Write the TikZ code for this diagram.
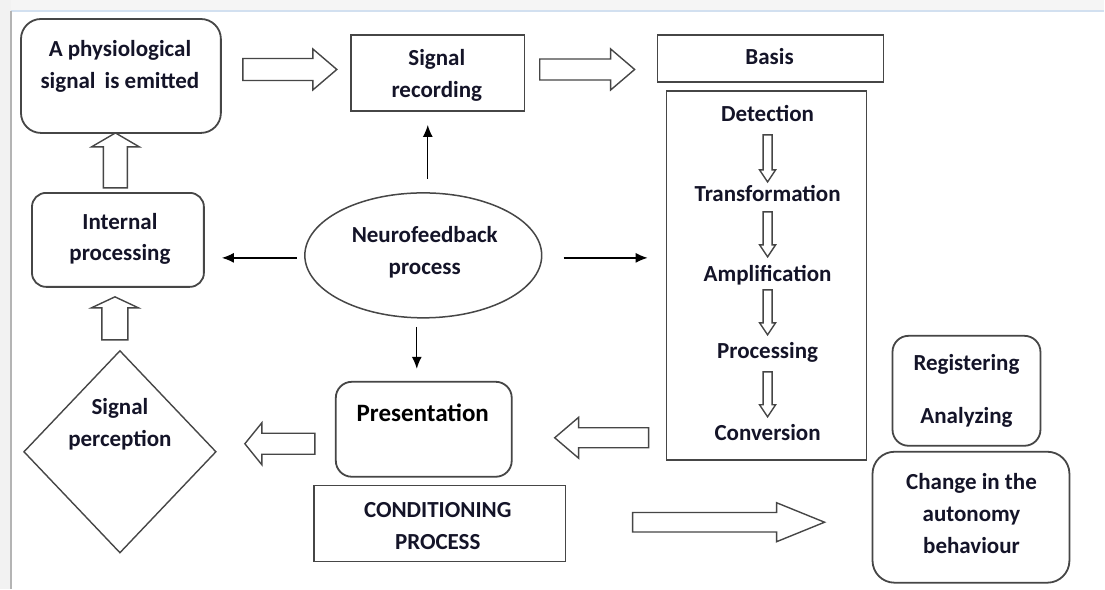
\documentclass[tikz,border=0pt]{standalone}
\usepackage{fontspec}
\setmainfont{Carlito}
\usetikzlibrary{shapes.geometric,arrows.meta,calc}
\definecolor{ink}{HTML}{141428}
\definecolor{edge}{HTML}{464646}
\definecolor{paneline}{HTML}{B4B4B4}
\definecolor{panetop}{HTML}{D2E0F0}
\begin{document}
\begin{tikzpicture}[x=1pt,y=-1pt,
  every node/.style={inner sep=0pt, outer sep=0pt},
  lbl/.style={font=\fontsize{23}{32}\selectfont\bfseries, text=ink, align=center},
  box/.style={draw=edge, line width=1.5pt, rectangle},
  rbox/.style={box, line width=1.8pt, rounded corners=16pt},
  blk/.style={draw=edge, line width=1.4pt, fill=white, line join=miter},
  arr/.style={draw=black, line width=1.3pt, -{Latex[length=12pt,width=10pt]}},
  % hollow block arrow: length / shaft half-width / head half-width / head length
  pics/blockarrow/.style args={#1/#2/#3/#4}{code={
    \draw[blk] (0,-#2) -- (#1-#4,-#2) -- (#1-#4,-#3) -- (#1,0)
      -- (#1-#4,#3) -- (#1-#4,#2) -- (0,#2) -- cycle;}},
]
% canvas and window edges
\fill[white] (0,0) rectangle (1105,589);
\fill[black!4] (0,0) rectangle (1105,11);
\fill[black!5] (0,0) rectangle (11,589);
\draw[panetop, line width=1.2pt] (11,11) -- (1105,11);
\draw[paneline, line width=2pt] (11,11) -- (11,589);
\useasboundingbox (0,0) rectangle (1105,589);

% boxes
\node[rbox, minimum width=200pt, minimum height=114pt, rounded corners=20pt] (phys) at (121,76) {};
\node[lbl] (physT) at (120,66) {A physiological\\signal\, is emitted};

\node[box, minimum width=174pt, minimum height=76pt] (rec) at (438,73) {};
\node[lbl] (recT) at (437,75) {Signal\\recording};

\node[box, minimum width=226pt, minimum height=47pt] (basis) at (771,58.5) {};
\node[lbl] (basisT) at (770,57) {Basis};

\node[box, minimum width=200pt, minimum height=369pt] (chain) at (767,275.5) {};
\node[lbl] (det) at (768,114) {Detection};
\node[lbl] (tra) at (768,194) {Transformation};
\node[lbl] (amp) at (768,275) {Amplification};
\node[lbl] (pro) at (768,353) {Processing};
\node[lbl] (con) at (768,433) {Conversion};

\node[rbox, minimum width=148pt, minimum height=110pt] (reg) at (967,391) {};
\node[lbl] (regT) at (967,365) {Registering};
\node[lbl] (anaT) at (967,418) {Analyzing};

\node[rbox, minimum width=197pt, minimum height=131pt, rounded corners=22pt] (change) at (971.5,517.5) {};
\node[lbl] (changeT) at (972,514) {Change in the\\autonomy\\behaviour};

\node[rbox, minimum width=172pt, minimum height=94pt, rounded corners=14pt] (internal) at (118,240) {};
\node[lbl] (internalT) at (120,239) {Internal\\processing};

\node[diamond, draw=edge, line width=1.4pt, minimum width=192pt, minimum height=202pt] (percep) at (120,452) {};
\node[lbl] (percepT) at (120,424) {Signal\\perception};

\node[ellipse, draw=edge, line width=1.5pt, minimum width=237pt, minimum height=125pt] (neuro) at (423.5,255.5) {};
\node[lbl] (neuroT) at (425,252) {Neurofeedback\\process};

\node[rbox, minimum width=176pt, minimum height=95pt] (pres) at (424,429.5) {};
\node[lbl, font=\fontsize{25}{32}\selectfont\bfseries, text=black] (presT) at (423,413) {Presentation};

\node[box, minimum width=252pt, minimum height=76pt] (cond) at (440,524) {};
\node[lbl] (condT) at (438,526) {CONDITIONING\\PROCESS};

% thin arrows out of the neurofeedback process
\draw[arr] ([xshift=4.5pt, yshift=14pt]neuro.north) -- ([xshift=-10pt, yshift=-14pt]rec.south);
\draw[arr] ([xshift=-8pt, yshift=-2.5pt]neuro.west) -- ([xshift=18pt, yshift=-18pt]internal.east);
\draw[arr] ([xshift=22pt, yshift=-2.5pt]neuro.east) -- ([xshift=-19pt, yshift=17.5pt]chain.west);
\draw[arr] ([xshift=-6.5pt, yshift=-9pt]neuro.south) -- ([xshift=-7pt, yshift=13pt]pres.north);

% hollow block arrows between stages
\pic at (243,69.5) {blockarrow=94/11/20.5/24};
\pic at (540,69.5) {blockarrow=95/10.5/20.5/24};
\pic[rotate=90] at (115.5,188) {blockarrow=55/12/24/14};
\pic[rotate=90] at (115,340) {blockarrow=43/13/23.5/11};
\pic[rotate=180] at (315,444) {blockarrow=70/10.5/21/17};
\pic[rotate=180] at (649,438) {blockarrow=94/10/20.5/24};
\pic at (633,522.5) {blockarrow=192/9.75/19.5/48};

% small arrows down the processing chain
\pic[rotate=-90] at (768,135) {blockarrow=47/4.5/8/12};
\pic[rotate=-90] at (768,212) {blockarrow=45/4.5/8/12};
\pic[rotate=-90] at (768,290) {blockarrow=45/4.5/8/12};
\pic[rotate=-90] at (768,372) {blockarrow=45/4.5/8/12};
\end{tikzpicture}
\end{document}
